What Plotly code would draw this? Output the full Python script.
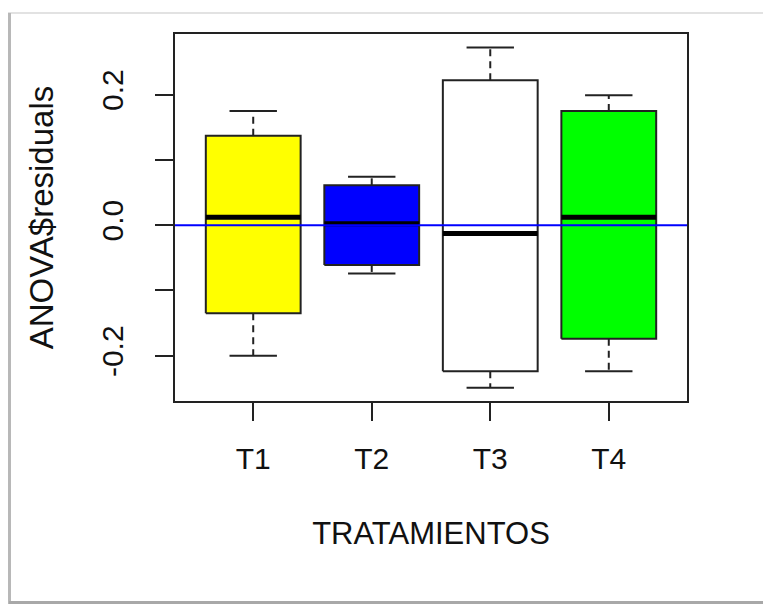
import plotly.graph_objects as go

# ---- data ----
categories = ["T1", "T2", "T3", "T4"]
lower_whisker = [-0.200, -0.074, -0.249, -0.224]
q1 = [-0.135, -0.061, -0.224, -0.174]
median = [0.012, 0.002, -0.013, 0.012]
q3 = [0.137, 0.061, 0.222, 0.175]
upper_whisker = [0.175, 0.074, 0.272, 0.199]
box_colors = ["#ffff00", "#0000ff", "#ffffff", "#00ff00"]

y_tickvals = [-0.2, -0.1, 0.0, 0.1, 0.2]
y_ticktext = ["-0.2", "", "0.0", "", "0.2"]

HALF_BOX = 0.4
HALF_CAP = 0.2
FONT = "Liberation Sans, Arial, sans-serif"
LINE_COL = "#222222"

fig = go.Figure()
positions = list(range(1, len(categories) + 1))

# whiskers (dashed) and caps
for p, lo, a, b, hi in zip(positions, lower_whisker, q1, q3, upper_whisker):
    fig.add_trace(go.Scatter(x=[p, p], y=[b, hi], mode="lines",
                             line=dict(color=LINE_COL, width=2, dash="7px,5px"),
                             showlegend=False, hoverinfo="skip"))
    fig.add_trace(go.Scatter(x=[p, p], y=[a, lo], mode="lines",
                             line=dict(color=LINE_COL, width=2, dash="7px,5px"),
                             showlegend=False, hoverinfo="skip"))
    fig.add_trace(go.Scatter(x=[p - HALF_CAP, p + HALF_CAP], y=[hi, hi], mode="lines",
                             line=dict(color=LINE_COL, width=2),
                             showlegend=False, hoverinfo="skip"))
    fig.add_trace(go.Scatter(x=[p - HALF_CAP, p + HALF_CAP], y=[lo, lo], mode="lines",
                             line=dict(color=LINE_COL, width=2),
                             showlegend=False, hoverinfo="skip"))

# boxes
for p, a, b, c, name in zip(positions, q1, q3, box_colors, categories):
    fig.add_trace(go.Scatter(
        x=[p - HALF_BOX, p + HALF_BOX, p + HALF_BOX, p - HALF_BOX, p - HALF_BOX],
        y=[a, a, b, b, a], mode="lines", fill="toself", fillcolor=c,
        line=dict(color=LINE_COL, width=2), name=name, showlegend=False))

# medians
for p, m in zip(positions, median):
    fig.add_trace(go.Scatter(x=[p - HALF_BOX, p + HALF_BOX], y=[m, m], mode="lines",
                             line=dict(color="#000000", width=5),
                             showlegend=False, hoverinfo="skip"))

# reference line at zero
fig.add_hline(y=0, line=dict(color="#0000ff", width=2), layer="above")

L, R, T, B = 175, 76, 34, 204
W, H = 763, 605
pw, ph = W - L - R, H - T - B


def px_x(v):
    return (v - L) / pw


def px_y(v):
    return (H - B - v) / ph


# screenshot frame (shadowed border)
fig.add_shape(type="line", xref="paper", yref="paper",
              x0=px_x(8), x1=px_x(770), y0=px_y(13), y1=px_y(13),
              line=dict(color="#e2e2e2", width=2))
fig.add_shape(type="line", xref="paper", yref="paper",
              x0=px_x(9.5), x1=px_x(9.5), y0=px_y(13), y1=px_y(604),
              line=dict(color="#b8b8b8", width=3))
fig.add_shape(type="line", xref="paper", yref="paper",
              x0=px_x(9), x1=px_x(770), y0=px_y(602.5), y1=px_y(602.5),
              line=dict(color="#a8a8a8", width=3))

fig.update_layout(
    width=W, height=H,
    margin=dict(l=L, r=R, t=T, b=B),
    paper_bgcolor="white", plot_bgcolor="white",
    font=dict(family=FONT, size=30, color="#111111"),
    xaxis=dict(
        range=[0.34, 4.66], tickvals=positions, ticktext=categories,
        showgrid=False, zeroline=False,
        showline=True, mirror=True, linecolor=LINE_COL, linewidth=2,
        ticks="outside", ticklen=18, tickwidth=2, tickcolor=LINE_COL,
        ticklabelstandoff=12,
        title=dict(text="TRATAMIENTOS", standoff=48, font=dict(size=31)),
    ),
    yaxis=dict(
        range=[-0.2694, 0.2928], tickvals=y_tickvals, ticktext=y_ticktext,
        tickangle=-90,
        showgrid=False, zeroline=False,
        showline=True, mirror=True, linecolor=LINE_COL, linewidth=2,
        ticks="outside", ticklen=18, tickwidth=2, tickcolor=LINE_COL,
        ticklabelstandoff=20,
        title=dict(text="ANOVA$residuals", standoff=32, font=dict(size=33)),
    ),
)

fig.write_html("out.html")
